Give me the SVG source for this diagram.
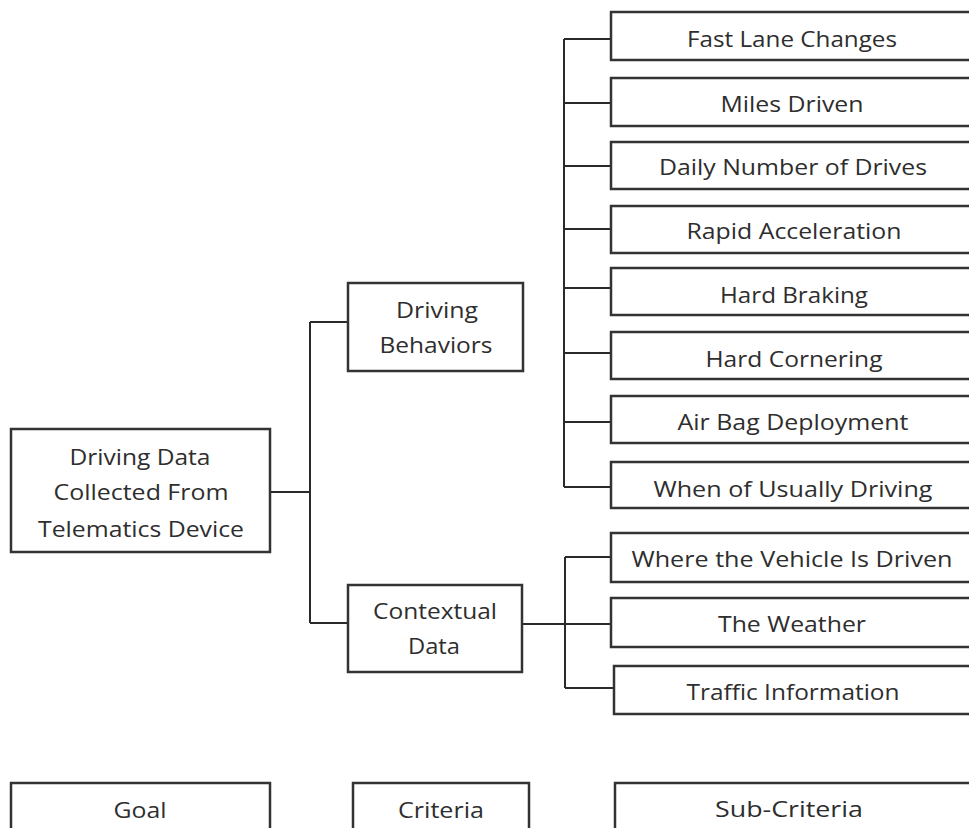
<svg xmlns="http://www.w3.org/2000/svg" width="969" height="828" viewBox="0 0 969 828">
<style>
.box{fill:#fff;stroke:#333;stroke-width:2.5}
.ln{fill:none;stroke:#2a2a2a;stroke-width:2}
text{font-family:"Open Sans","Noto Sans","Liberation Sans",sans-serif;font-size:21px;fill:#2e2e2e;text-anchor:middle}
</style>
<rect width="969" height="828" fill="#fff"/>
<g id="connectors">
<path class="ln" d="M270 492H310M310 322V623M310 322H348M310 623H348"/>
<path class="ln" d="M564 39V487M564 39H611M564 103H611M564 166H611M564 229H611M564 288H611M564 353H611M564 422H611M564 487H611"/>
<path class="ln" d="M522 624H611M565 557V688M565 557H611M565 688H614"/>
</g>
<g id="goal-main"><rect class="box" x="11" y="429" width="259" height="123"/>
<text x="140" y="465" textLength="141" lengthAdjust="spacingAndGlyphs">Driving Data</text>
<text x="141" y="500" textLength="175" lengthAdjust="spacingAndGlyphs">Collected From</text>
<text x="141" y="537" textLength="206" lengthAdjust="spacingAndGlyphs">Telematics Device</text></g>
<g id="driving-behaviors"><rect class="box" x="348" y="283" width="175" height="88"/>
<text x="437" y="318" textLength="82" lengthAdjust="spacingAndGlyphs">Driving</text>
<text x="436" y="353" textLength="113" lengthAdjust="spacingAndGlyphs">Behaviors</text></g>
<g id="contextual-data"><rect class="box" x="348" y="585" width="174" height="87"/>
<text x="435" y="619" textLength="124" lengthAdjust="spacingAndGlyphs">Contextual</text>
<text x="434" y="654" textLength="52" lengthAdjust="spacingAndGlyphs">Data</text></g>
<g id="fast-lane"><rect class="box" x="611" y="12" width="364" height="48"/><text x="792" y="47" textLength="210" lengthAdjust="spacingAndGlyphs">Fast Lane Changes</text></g>
<g id="miles"><rect class="box" x="611" y="78" width="364" height="48"/><text x="792" y="112" textLength="143" lengthAdjust="spacingAndGlyphs">Miles Driven</text></g>
<g id="daily"><rect class="box" x="611" y="142" width="364" height="47"/><text x="793" y="175" textLength="268" lengthAdjust="spacingAndGlyphs">Daily Number of Drives</text></g>
<g id="rapid"><rect class="box" x="611" y="206" width="364" height="47"/><text x="794" y="239" textLength="215" lengthAdjust="spacingAndGlyphs">Rapid Acceleration</text></g>
<g id="braking"><rect class="box" x="611" y="268" width="364" height="47"/><text x="794" y="303" textLength="148" lengthAdjust="spacingAndGlyphs">Hard Braking</text></g>
<g id="cornering"><rect class="box" x="611" y="332" width="364" height="47"/><text x="794" y="367" textLength="177" lengthAdjust="spacingAndGlyphs">Hard Cornering</text></g>
<g id="airbag"><rect class="box" x="611" y="396" width="364" height="47"/><text x="793" y="430" textLength="231" lengthAdjust="spacingAndGlyphs">Air Bag Deployment</text></g>
<g id="when"><rect class="box" x="611" y="462" width="364" height="46"/><text x="793" y="497" textLength="279" lengthAdjust="spacingAndGlyphs">When of Usually Driving</text></g>
<g id="where"><rect class="box" x="611" y="533" width="364" height="49"/><text x="792" y="567" textLength="321" lengthAdjust="spacingAndGlyphs">Where the Vehicle Is Driven</text></g>
<g id="weather"><rect class="box" x="611" y="598" width="364" height="49"/><text x="792" y="632" textLength="148" lengthAdjust="spacingAndGlyphs">The Weather</text></g>
<g id="traffic"><rect class="box" x="614" y="666" width="361" height="48"/><text x="793" y="700" textLength="213" lengthAdjust="spacingAndGlyphs">Traffic Information</text></g>
<g id="legend-goal"><rect class="box" x="11" y="783" width="259" height="60"/><text x="140" y="818" textLength="53" lengthAdjust="spacingAndGlyphs">Goal</text></g>
<g id="legend-criteria"><rect class="box" x="353" y="783" width="176" height="60"/><text x="441" y="818" textLength="86" lengthAdjust="spacingAndGlyphs">Criteria</text></g>
<g id="legend-sub"><rect class="box" x="615" y="783" width="360" height="60"/><text x="789" y="817" textLength="148" lengthAdjust="spacingAndGlyphs">Sub-Criteria</text></g>
</svg>
